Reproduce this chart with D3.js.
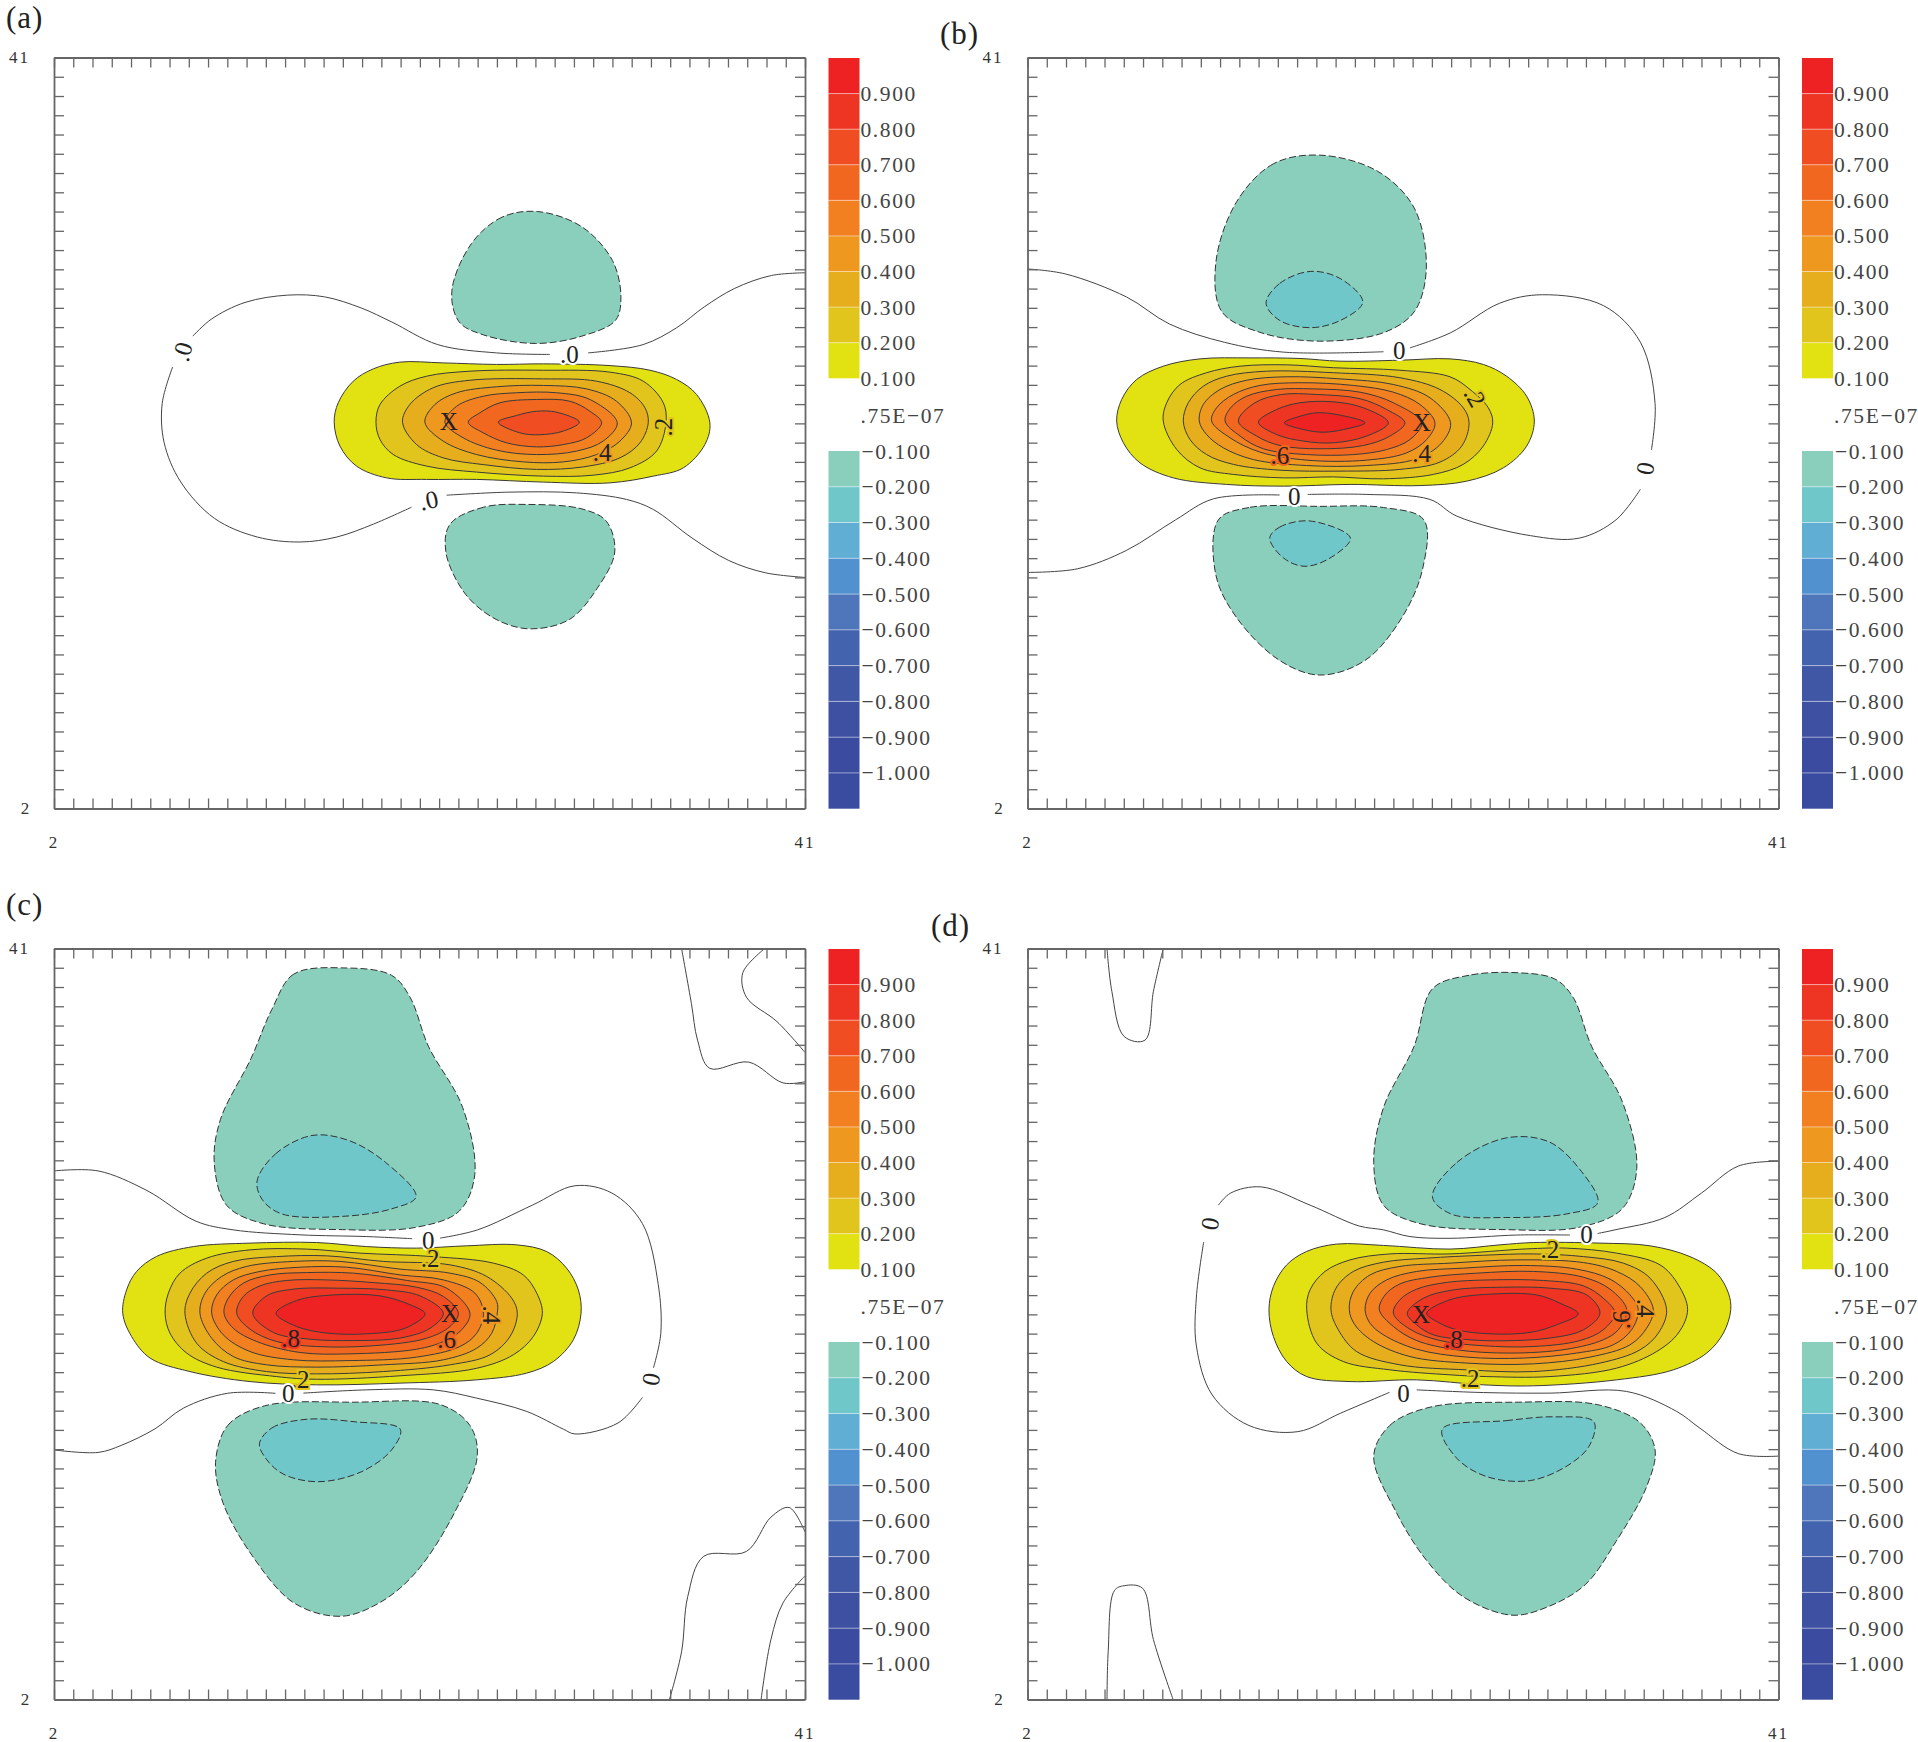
<!DOCTYPE html>
<html>
<head>
  <meta charset="utf-8">
  <title>Contours</title>
  <style type="text/css">
    body { margin: 0; background: #fff; }
    svg { display: block; font-family: "Liberation Serif", serif; }
    .frame path, .frame line { stroke: #666; stroke-width: 1.3; }
    .frame path { stroke-width: 1.8; }
  </style>
  <script src="https://cdnjs.cloudflare.com/ajax/libs/d3/7.8.5/d3.min.js"></script>
</head>
<body>
<script type="text/javascript">
// legend values and colours
var posLevels = [0.1, 0.2, 0.3, 0.4, 0.5, 0.6, 0.7, 0.8, 0.9];
var posColors = ["#e2e212", "#e2c51c", "#e6ae1d", "#ee9820", "#f27f20", "#f1671f", "#f04e22", "#ee3524", "#ee2222"];
var negLevels = [-0.1, -0.2, -0.3, -0.4, -0.5, -0.6, -0.7, -0.8, -0.9, -1.0];
var negColors = ["#89cfbc", "#6fc7ca", "#60aed4", "#5291cf", "#4f76ba", "#4363ae", "#3f57a5", "#3d50a2", "#3b4ba0", "#3a4ca0"];
var gridTicks = d3.range(2, 42);

// positive contours, lowest level first, in grid units
var ringsA = [
  [[16.55,22.06],[16.76,23.07],[17.54,24.19],[18.58,24.83],[19.96,25.18],[22.21,25.14],[24.98,25.06],[27.41,25.09],[30.87,25.0],[32.95,24.76],[34.33,24.28],[35.37,23.5],[36.06,22.03],[35.8,20.9],[34.68,19.69],[33.12,19.26],[30.87,18.91],[27.41,18.95],[23.95,19.09],[21.35,19.09],[19.27,19.17],[17.71,19.78],[16.85,20.82]],
  [[18.72,22.06],[18.93,22.98],[19.96,23.93],[21.35,24.45],[23.6,24.71],[27.41,24.76],[30.87,24.66],[32.6,24.19],[33.64,23.07],[33.78,22.03],[33.29,20.56],[31.91,19.69],[30.0,19.31],[27.41,19.26],[23.95,19.47],[21.35,19.78],[19.62,20.38],[18.93,21.16]],
  [[20.1,22.06],[20.48,22.98],[21.69,23.85],[23.6,24.24],[27.41,24.31],[30.18,24.19],[31.91,23.59],[32.69,22.81],[32.86,22.03],[32.43,20.99],[31.39,20.21],[29.48,19.74],[27.06,19.61],[24.29,19.86],[22.21,20.21],[20.83,20.9]],
  [[21.26,22.06],[21.78,22.98],[22.91,23.59],[24.98,23.9],[27.41,23.97],[29.66,23.79],[31.21,23.15],[31.99,22.03],[31.39,21.08],[30.18,20.38],[28.45,20.0],[26.37,20.0],[23.95,20.38],[22.21,21.08]],
  [[22.3,22.06],[22.91,22.89],[24.29,23.41],[26.02,23.59],[28.1,23.59],[29.83,23.24],[31.25,22.03],[30.52,21.08],[29.14,20.56],[27.06,20.38],[24.98,20.61],[23.25,21.25]],
  [[23.51,22.06],[24.12,22.55],[25.16,23.07],[27.06,23.24],[28.79,23.15],[29.83,22.63],[30.44,22.03],[29.66,21.25],[28.45,20.9],[27.06,20.78],[25.5,20.99],[24.29,21.51]],
  [[25.07,22.06],[26.02,22.41],[27.06,22.63],[28.1,22.58],[29.28,22.06],[28.45,21.6],[27.23,21.41],[26.19,21.51]]
];
var ringsB = [
  [[6.63,22.12],[6.89,23.24],[7.67,24.28],[9.05,24.97],[10.96,25.35],[13.55,25.4],[16.15,25.37],[18.23,25.23],[21.34,25.28],[23.94,25.35],[25.67,25.06],[26.88,24.45],[27.92,23.41],[28.32,22.12],[27.92,20.82],[26.71,19.69],[24.81,19.0],[22.38,18.77],[18.75,18.83],[15.29,18.74],[12.34,18.83],[9.57,19.17],[7.84,19.95],[6.98,20.99]],
  [[9.05,22.12],[9.23,23.07],[9.92,24.02],[11.3,24.63],[13.04,24.97],[15.46,25.04],[17.88,24.89],[21.34,24.76],[23.94,24.42],[24.98,23.76],[25.93,22.81],[26.16,22.03],[25.67,20.82],[24.63,19.87],[23.08,19.35],[20.48,19.12],[17.88,19.22],[15.29,19.17],[12.69,19.35],[10.96,19.69],[9.75,20.64]],
  [[10.09,22.12],[10.35,23.07],[11.13,23.93],[12.34,24.45],[14.42,24.71],[17.88,24.63],[21.34,24.37],[23.42,23.76],[24.63,22.81],[24.93,22.03],[24.55,20.82],[23.42,19.99],[21.34,19.61],[18.23,19.52],[15.11,19.57],[12.69,19.87],[11.3,20.38],[10.44,21.16]],
  [[10.92,22.12],[11.13,22.98],[12.0,23.76],[13.38,24.24],[15.46,24.42],[18.23,24.31],[21.0,24.02],[22.9,23.33],[23.97,22.03],[23.51,20.99],[22.21,20.16],[19.61,19.81],[16.5,19.81],[13.73,20.12],[12.17,20.73],[11.3,21.42]],
  [[11.56,22.12],[11.82,22.81],[12.69,23.5],[14.07,23.97],[16.15,24.11],[18.92,23.97],[21.0,23.62],[22.38,22.98],[23.16,22.03],[22.73,21.16],[21.69,20.47],[19.61,20.09],[16.5,20.09],[14.07,20.51],[12.52,21.25]],
  [[12.26,22.12],[12.55,22.81],[13.38,23.41],[14.94,23.76],[16.84,23.79],[19.27,23.62],[21.0,23.07],[22.47,22.03],[21.86,21.16],[20.65,20.64],[18.92,20.38],[16.5,20.38],[14.25,20.68],[13.04,21.34]],
  [[12.95,22.12],[13.81,23.07],[15.2,23.5],[17.02,23.5],[19.27,23.28],[20.65,22.72],[21.6,22.03],[20.82,21.34],[19.44,20.85],[17.19,20.68],[15.11,20.85],[13.9,21.34]],
  [[13.99,22.06],[14.94,22.72],[16.15,23.07],[17.88,23.12],[19.44,22.81],[20.74,22.03],[19.61,21.34],[17.88,20.99],[16.33,21.08],[14.94,21.42]],
  [[15.34,22.03],[16.15,22.37],[17.02,22.55],[18.06,22.46],[19.53,22.03],[18.4,21.68],[17.36,21.54],[16.33,21.68]]
];
var ringsC = [
  [[5.57,22.06],[5.77,23.27],[6.29,24.23],[7.33,25.01],[9.24,25.52],[12.18,25.7],[15.64,25.73],[18.24,25.52],[20.83,25.44],[23.43,25.56],[26.03,25.61],[27.59,25.26],[28.62,24.4],[29.23,23.27],[29.37,22.06],[28.97,20.68],[27.93,19.55],[26.55,18.95],[23.95,18.6],[19.97,18.43],[15.64,18.34],[12.18,18.51],[9.06,19.03],[6.99,19.73],[6.03,20.85]],
  [[7.77,22.06],[7.94,23.1],[8.54,24.14],[9.93,24.92],[12.18,25.35],[15.12,25.39],[17.89,25.18],[21.7,25.0],[24.82,24.66],[26.37,24.05],[27.07,23.1],[27.36,22.06],[26.89,20.85],[25.85,19.9],[23.95,19.2],[19.97,18.81],[15.64,18.63],[13.56,18.77],[10.45,19.26],[8.89,19.99],[8.02,21.03]],
  [[8.8,22.06],[9.06,23.1],[9.93,24.14],[11.31,24.75],[13.56,25.0],[16.16,25.04],[19.1,24.75],[22.57,24.57],[24.47,23.97],[25.77,22.84],[26.06,22.06],[25.68,20.85],[24.64,19.9],[22.57,19.38],[19.1,19.03],[15.64,18.91],[13.04,19.03],[10.79,19.55],[9.41,20.5]],
  [[9.58,22.06],[9.84,23.1],[10.71,23.97],[12.0,24.49],[14.43,24.75],[16.85,24.75],[19.97,24.35],[22.57,24.14],[24.12,23.66],[24.99,22.67],[25.02,22.06],[24.73,21.02],[23.95,20.24],[22.22,19.64],[19.1,19.38],[15.64,19.26],[13.04,19.38],[11.31,19.81],[10.19,20.76]],
  [[10.19,22.06],[10.45,23.01],[11.31,23.79],[12.7,24.23],[14.78,24.45],[17.2,24.45],[19.97,24.05],[22.22,23.79],[23.86,23.1],[24.3,22.06],[23.95,21.02],[23.08,20.33],[20.83,19.78],[17.37,19.6],[14.43,19.64],[12.18,20.07],[10.79,20.94]],
  [[10.83,22.06],[11.05,22.84],[11.83,23.62],[13.22,24.05],[15.12,24.17],[17.55,24.14],[20.34,23.76],[22.39,23.36],[23.6,22.06],[23.17,21.2],[22.22,20.59],[20.83,20.19],[17.37,19.95],[14.78,20.02],[12.53,20.59],[11.31,21.28]],
  [[11.49,22.06],[11.83,22.93],[12.7,23.48],[14.08,23.76],[16.16,23.79],[18.58,23.65],[20.83,23.41],[22.22,22.93],[23.0,22.06],[22.56,21.37],[21.35,20.76],[18.58,20.37],[15.64,20.33],[13.56,20.59],[12.18,21.23]],
  [[12.32,22.06],[13.04,22.96],[14.43,23.31],[16.85,23.36],[19.28,23.27],[21.01,22.96],[22.22,22.06],[21.53,21.28],[19.97,20.77],[17.55,20.64],[15.3,20.71],[13.39,21.06]],
  [[13.53,22.06],[14.6,22.72],[16.51,23.01],[18.93,22.96],[20.49,22.5],[21.27,22.03],[20.23,21.28],[18.24,20.99],[16.16,21.03],[14.6,21.37]]
];
var ringsD = [
  [[14.54,22.24],[14.77,23.45],[15.46,24.57],[16.5,25.27],[18.06,25.65],[20.48,25.58],[23.94,25.39],[26.54,25.61],[28.27,25.73],[31.73,25.7],[34.33,25.56],[36.4,25.0],[37.79,24.14],[38.4,23.1],[38.52,22.24],[38.14,21.03],[37.27,19.99],[35.54,19.12],[32.6,18.6],[28.27,18.29],[25.67,18.34],[22.21,18.6],[18.75,18.51],[16.5,18.77],[15.46,19.55],[14.77,20.85]],
  [[16.5,22.24],[16.67,23.27],[17.45,24.23],[18.75,24.83],[20.82,25.14],[23.94,25.14],[27.92,25.4],[30.0,25.44],[32.6,25.18],[34.85,24.57],[35.8,23.53],[36.28,22.24],[35.8,21.03],[34.67,20.07],[32.6,19.21],[29.13,18.77],[25.85,18.77],[23.94,18.86],[20.82,19.12],[18.4,19.55],[17.02,20.5]],
  [[17.76,22.24],[18.02,23.36],[18.92,24.23],[20.48,24.71],[22.73,24.92],[25.67,25.07],[28.27,25.14],[30.87,25.0],[32.94,24.66],[34.33,23.88],[35.19,22.24],[34.76,21.03],[33.81,20.16],[31.73,19.47],[28.27,19.03],[24.81,19.12],[21.34,19.38],[19.09,20.07],[18.14,21.2]],
  [[18.71,22.24],[18.92,23.19],[19.79,24.05],[21.34,24.49],[23.94,24.66],[27.4,24.83],[30.87,24.69],[32.6,24.23],[33.81,23.45],[34.5,22.24],[34.15,21.28],[33.29,20.42],[31.21,19.78],[28.27,19.43],[24.81,19.47],[21.86,19.81],[19.96,20.59],[19.0,21.46]],
  [[19.53,22.24],[19.79,23.1],[20.65,23.79],[22.21,24.23],[24.63,24.4],[27.75,24.54],[30.52,24.35],[32.25,23.83],[33.29,23.01],[33.72,22.24],[33.37,21.2],[32.42,20.42],[30.52,19.99],[27.75,19.73],[24.81,19.78],[22.21,20.19],[20.48,20.94],[19.79,21.54]],
  [[20.27,22.24],[20.57,23.01],[21.34,23.58],[22.9,23.93],[25.33,24.14],[28.27,24.23],[30.87,23.93],[32.25,23.31],[33.12,22.24],[32.68,21.2],[31.9,20.68],[30.0,20.19],[27.06,19.99],[24.29,20.16],[22.21,20.64],[21.0,21.37]],
  [[21.0,22.06],[21.34,22.76],[22.21,23.31],[23.77,23.66],[26.02,23.79],[28.79,23.76],[30.87,23.48],[31.9,22.84],[32.51,22.06],[31.9,21.2],[30.69,20.64],[28.27,20.33],[25.67,20.37],[23.42,20.64],[21.86,21.23]],
  [[21.72,22.06],[22.56,22.84],[24.11,23.27],[26.71,23.41],[29.13,23.36],[31.04,23.01],[31.73,22.06],[30.87,21.2],[29.13,20.77],[26.71,20.63],[24.98,20.68],[23.07,20.94],[22.21,21.46]],
  [[22.73,22.06],[23.94,22.76],[26.02,23.05],[28.44,23.01],[29.65,22.58],[30.6,22.03],[29.48,21.46],[28.1,21.06],[26.02,20.99],[24.29,21.2],[23.25,21.63]]
];

// negative contours as [level, points]
var negA = [
  [-0.1, [[27.12,33.0],[25.27,32.71],[23.68,31.34],[22.66,28.86],[23.05,27.26],[24.32,26.59],[27.02,26.15],[29.41,26.53],[31.16,27.35],[31.44,28.57],[31.0,30.46],[29.41,32.21]]],
  [-0.1, [[26.54,17.79],[24.32,17.65],[22.57,16.77],[22.35,15.32],[23.37,13.13],[24.96,11.82],[26.71,11.33],[28.77,11.82],[30.2,13.42],[31.12,15.32],[30.68,16.92],[29.41,17.56]]]
];
var negB = [
  [-0.1, [[17.18,35.93],[14.77,35.48],[12.86,33.51],[11.78,30.34],[12.1,27.79],[14.13,26.71],[17.18,26.27],[20.49,26.71],[22.08,27.79],[22.71,30.02],[22.08,33.19],[20.17,35.1]]],
  [-0.2, [[14.39,28.24],[15.09,29.26],[16.68,29.89],[18.26,29.51],[19.41,28.3],[18.26,27.35],[16.68,26.97],[15.09,27.35]]],
  [-0.1, [[17.18,17.69],[13.5,17.63],[11.91,16.99],[11.78,14.13],[12.86,11.91],[15.09,9.69],[17.18,8.93],[19.53,9.69],[21.44,11.91],[22.52,14.45],[22.58,16.99],[20.49,17.63]]],
  [-0.2, [[14.58,16.04],[15.09,16.61],[16.68,16.93],[18.77,16.04],[17.63,14.96],[16.36,14.58],[15.28,15.02]]]
];
var negC = [
  [-0.1, [[17.12,39.99],[14.45,39.67],[13.31,37.83],[12.23,35.29],[10.64,32.11],[10.32,29.89],[10.96,27.67],[12.86,26.71],[16.99,26.4],[20.8,26.52],[23.03,27.35],[23.85,29.25],[23.22,32.75],[21.44,35.93],[20.49,38.47],[19.53,39.61]]],
  [-0.2, [[12.55,28.94],[13.5,30.33],[15.4,31.29],[17.31,31.03],[19.22,29.89],[20.8,28.11],[19.53,27.48],[16.99,27.09],[13.82,27.22],[12.8,27.98]]],
  [-0.1, [[10.39,14.32],[11.02,16.23],[12.93,17.25],[17.63,17.44],[22.08,17.31],[23.6,16.23],[23.98,14.64],[22.84,11.78],[20.8,8.61],[18.9,7.02],[16.87,6.32],[14.45,7.02],[12.23,9.56],[10.77,12.23]]],
  [-0.2, [[12.67,15.28],[13.31,16.1],[15.09,16.55],[17.63,16.42],[19.98,16.04],[19.53,14.96],[17.95,13.82],[15.72,13.31],[13.94,13.69],[13.05,14.45]]]
];
var negD = [
  [-0.1, [[27.48,39.74],[24.93,39.61],[23.03,38.91],[22.08,35.93],[20.49,32.75],[19.98,29.89],[20.49,27.67],[22.39,26.71],[26.84,26.4],[30.65,26.52],[32.88,27.48],[33.64,29.57],[32.88,33.07],[31.29,35.93],[30.33,38.47],[29.38,39.42]]],
  [-0.2, [[23.03,28.11],[24.3,29.89],[26.84,31.16],[29.06,30.97],[30.65,29.57],[31.61,27.79],[30.02,27.22],[26.84,27.03],[23.98,27.22]]],
  [-0.1, [[19.98,14.64],[20.81,16.23],[22.9,17.18],[27.48,17.44],[31.61,17.31],[33.83,16.36],[34.59,14.96],[34.15,13.05],[32.56,10.2],[30.97,7.97],[29.06,6.83],[27.16,6.38],[24.62,7.34],[22.71,9.24],[21.12,11.78]]],
  [-0.2, [[23.54,16.04],[26.84,16.48],[29.38,16.68],[31.41,16.42],[31.16,15.15],[30.02,14.13],[28.11,13.37],[25.89,13.56],[24.3,14.52]]]
];

// zero contours, broken where a label sits
var zeroA = [
  [[41.0,29.82],[39.26,29.68],[37.35,29.01],[35.77,28.05],[34.34,26.97],[32.59,26.09],[29.74,25.66]],
  [[27.75,25.58],[24.98,25.66],[21.93,26.09],[19.55,27.26],[17.96,27.99],[16.05,28.57],[14.14,28.66],[11.92,28.28],[10.17,27.41],[9.21,26.53]],
  [[8.16,24.93],[7.62,23.04],[7.72,21.0],[8.58,18.96],[10.33,17.07],[12.55,16.1],[14.78,15.84],[16.69,16.1],[18.59,16.77],[20.57,17.65]],
  [[22.39,18.27],[25.68,18.43],[29.14,18.39],[31.73,18.05],[33.12,17.53],[35.13,16.05],[37.04,14.88],[38.95,14.24],[41.0,14.0]]
];
var zeroB = [
  [[2,30.02],[3.97,29.76],[7.15,28.56],[9.37,27.16],[12.23,26.21],[15.29,25.7],[20.49,25.72]],
  [[21.86,25.92],[23.98,26.71],[26.52,28.24],[28.75,28.68],[31.92,28.11],[33.83,26.21],[34.59,23.03],[34.4,20.62]],
  [[33.83,18.58],[32.56,16.99],[30.65,16.04],[28.11,16.17],[24.3,17.18],[22.9,18.05],[19.62,18.31],[16.55,18.31]],
  [[15.09,18.28],[11.65,18.08],[9.69,16.99],[7.15,15.41],[4.6,14.45],[2,14.26]]
];
var zeroC = [
  [[2,29.45],[4.29,29.45],[6.83,28.43],[9.37,26.84],[11.3,26.39],[14.78,26.13],[18.24,26.04],[20.6,25.93]],
  [[22.05,25.96],[24.0,26.39],[26.84,27.67],[29.06,28.68],[30.97,28.3],[32.56,26.71],[33.38,23.54],[33.51,21.0],[33.13,19.22]],
  [[32.56,17.69],[31.29,16.36],[29.06,15.79],[28.45,16.04],[26.55,16.96],[23.95,17.65],[21.7,18.08],[18.24,18.08],[14.95,17.91]],
  [[13.5,17.9],[11.0,17.9],[8.72,17.13],[7.25,16.06],[5.5,15.2],[4.29,14.83],[2,14.96]],
  [[34.59,41],[35.1,38.15],[35.42,36.24],[36.05,34.78],[38.08,35.1],[39.86,34.02],[41,34.08]],
  [[38.91,41],[37.77,39.74],[37.96,38.47],[39.55,37.2],[41,35.6]],
  [[41,10.7],[40.18,11.97],[39.23,11.47],[37.96,9.69],[35.73,9.43],[34.91,7.34],[34.59,4.48],[33.96,2]],
  [[41,8.42],[39.86,7.02],[39.23,5.11],[38.72,2]]
];
var zeroD = [
  [[41,29.95],[38.91,29.7],[37.0,28.3],[35.1,27.03],[32.56,26.4],[31.61,26.2]],
  [[30.17,26.12],[27.4,26.12],[23.94,25.95],[21.86,26.04],[20.48,26.39],[19.22,26.59],[16.68,27.67],[14.13,28.62],[12.55,28.3],[11.91,27.67]],
  [[11.15,25.76],[10.77,22.9],[10.77,20.36],[11.59,17.82],[13.5,16.23],[16.04,15.91],[18.26,16.87],[20.8,17.95]],
  [[22.21,18.08],[25.67,17.94],[29.13,17.91],[33.1,18.0],[35.71,16.96],[36.92,16.09],[38.91,14.77],[41,14.64]],
  [[6.13,41],[6.38,38.78],[7.02,36.43],[8.1,36.24],[8.54,38.78],[9.05,41]],
  [[6.13,2],[6.19,4.48],[6.51,7.65],[7.02,7.91],[7.97,7.78],[8.54,5.11],[9.56,2]]
];

// contour labels: grid x, grid y, text, rotation
var labelsA = [[8.67,25.72,".0",-75],[28.77,25.57,".0",0],[21.46,18.0,".0",-12],[22.5,22.08,"X",0],[33.64,21.8,".2",-90],[30.46,20.47,".4",0]];
var labelsB = [[21.31,25.76,"0",0],[34.08,19.66,"0",-80],[15.85,18.2,"0",0],[25.24,23.38,".2",60],[22.47,22.03,"X",0],[15.11,20.33,".6",0],[22.47,20.42,".4",0]];
var labelsC = [[21.44,25.82,"0",0],[21.53,24.92,".2",0],[24.73,21.98,".4",90],[22.57,22.03,"X",0],[22.39,20.71,".6",0],[14.29,20.77,".8",0],[14.78,18.6,".2",0],[14.17,17.91,"0",0],[33.0,18.64,"0",-80]];
var labelsD = [[11.47,26.71,"0",-80],[31.03,26.14,"0",0],[29.13,25.35,".2",0],[22.43,21.98,"X",0],[24.11,20.68,".8",0],[32.85,21.72,".6",-90],[34.07,22.32,".4",90],[24.98,18.69,".2",0],[21.52,17.91,"0",0]];

var panelNames = ["(a)", "(b)", "(c)", "(d)"];

var svg = d3.select("body").append("svg").attr("width", 1918).attr("height", 1742);
svg.append("rect").attr("width", 1918).attr("height", 1742).attr("fill", "#fff");

var size = 751;

function drawPanel(left, top, rings, negs, zeros, labels) {
  var x = d3.scaleLinear().domain([2, 41]).range([left, left + size]);
  var y = d3.scaleLinear().domain([2, 41]).range([top + size, top]);
  var closed = d3.line().x(d => x(d[0])).y(d => y(d[1])).curve(d3.curveCatmullRomClosed.alpha(0.5));
  var open = d3.line().x(d => x(d[0])).y(d => y(d[1])).curve(d3.curveCatmullRom.alpha(0.5));

  var g = svg.append("g");

  g.selectAll(".neg").data(negs).enter().append("path")
    .attr("d", d => closed(d[1]))
    .attr("fill", d => negColors[negLevels.indexOf(d[0])])
    .attr("stroke", "#333").attr("stroke-width", 1).attr("stroke-dasharray", "7 3");

  g.selectAll(".ring").data(rings).enter().append("path")
    .attr("d", d => closed(d))
    .attr("fill", (d, i) => posColors[i])
    .attr("stroke", "#3a3a3a").attr("stroke-width", 1);

  g.selectAll(".zero").data(zeros).enter().append("path")
    .attr("d", d => open(d))
    .attr("fill", "none").attr("stroke", "#444").attr("stroke-width", 1);

  g.selectAll(".lab").data(labels).enter().append("text")
    .attr("transform", d => "translate(" + x(d[0]) + "," + y(d[1]) + ") rotate(" + d[3] + ")")
    .attr("text-anchor", "middle").attr("dy", "0.34em")
    .attr("font-size", 25).attr("fill", "#222")
    .attr("stroke", d => d[2] == "X" ? "none" : (+d[2] == 0 ? "#fff" : posColors[posLevels.indexOf(+d[2])]))
    .attr("stroke-width", 4).attr("paint-order", "stroke")
    .text(d => d[2]);

  // frame and ticks, every grid step on all four sides
  function frame(axis, tx, ty) {
    svg.append("g").attr("class", "frame")
      .attr("transform", "translate(" + tx + "," + ty + ")")
      .call(axis.tickValues(gridTicks).tickSizeInner(-10).tickSizeOuter(0).tickFormat(""));
  }
  frame(d3.axisBottom(x), 0, top + size);
  frame(d3.axisTop(x), 0, top);
  frame(d3.axisLeft(y), left, 0);
  frame(d3.axisRight(y), left + size, 0);

  var small = [[left - 34.5, top, "41"], [left - 28, top + size, "2"], [left, top + size + 34, "2"], [left + size, top + size + 34, "41"]];
  svg.selectAll(null).data(small).enter().append("text")
    .attr("x", d => d[0]).attr("y", d => d[1]).attr("dy", "0.34em")
    .attr("text-anchor", "middle").attr("font-size", 17).attr("letter-spacing", 2)
    .attr("fill", "#333").text(d => d[2]);

  // colour legend
  var lx = left + 774.5, lw = 31;
  var posY = d3.scaleLinear().domain([0.1, 1.0]).range([top + 320.8, top + 0.5]);
  var negY = d3.scaleLinear().domain([-0.1, -1.1]).range([top + 393.5, top + 751.2]);

  svg.selectAll(null).data(posLevels).enter().append("rect")
    .attr("x", lx).attr("width", lw)
    .attr("y", d => posY(d + 0.1)).attr("height", d => posY(d) - posY(d + 0.1))
    .attr("fill", (d, i) => posColors[i]);
  svg.selectAll(null).data(negLevels).enter().append("rect")
    .attr("x", lx).attr("width", lw)
    .attr("y", d => negY(d)).attr("height", d => negY(d - 0.1) - negY(d))
    .attr("fill", (d, i) => negColors[i]);

  // light separators between the bands
  svg.selectAll(null).data(posLevels.slice(1)).enter().append("line")
    .attr("x1", lx).attr("x2", lx + lw).attr("y1", d => posY(d)).attr("y2", d => posY(d))
    .attr("stroke", "#fff").attr("stroke-opacity", 0.45);
  svg.selectAll(null).data(negLevels.slice(1)).enter().append("line")
    .attr("x1", lx).attr("x2", lx + lw).attr("y1", d => negY(d)).attr("y2", d => negY(d))
    .attr("stroke", "#fff").attr("stroke-opacity", 0.45);

  var fmt = d3.format(".3f");
  svg.selectAll(null).data(posLevels).enter().append("text")
    .attr("x", lx + 32).attr("y", d => posY(d)).attr("dy", "0.35em")
    .attr("font-size", 21.5).attr("letter-spacing", 1.6).attr("fill", "#444")
    .text(d => fmt(d));
  svg.selectAll(null).data(negLevels).enter().append("text")
    .attr("x", lx + 33).attr("y", d => negY(d)).attr("dy", "0.35em")
    .attr("font-size", 21.5).attr("letter-spacing", 1.6).attr("fill", "#444")
    .text(d => fmt(d));
  svg.append("text").attr("x", lx + 32).attr("y", top + 357.5).attr("dy", "0.35em")
    .attr("font-size", 21.5).attr("letter-spacing", 1.6).attr("fill", "#444")
    .text(".75E\u221207");
}

drawPanel(54, 57.5, ringsA, negA, zeroA, labelsA);
drawPanel(1027.5, 57.5, ringsB, negB, zeroB, labelsB);
drawPanel(54, 948.5, ringsC, negC, zeroC, labelsC);
drawPanel(1027.5, 948.5, ringsD, negD, zeroD, labelsD);

// panel letters
var letterPos = [[6, 28], [940, 44], [6, 915], [931, 936]];
svg.selectAll(null).data(panelNames).enter().append("text")
  .attr("x", (d, i) => letterPos[i][0]).attr("y", (d, i) => letterPos[i][1])
  .attr("font-size", 31).attr("letter-spacing", 1).attr("fill", "#222").text(d => d);
</script>
</body>
</html>
